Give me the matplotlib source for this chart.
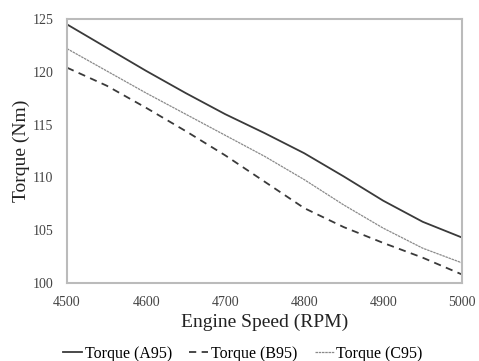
import matplotlib.pyplot as plt
import numpy as np

plt.rcParams['font.family'] = ['Liberation Serif', 'DejaVu Serif']

rpm = [4500, 4550, 4600, 4650, 4700, 4750, 4800, 4850, 4900, 4950, 5000]
torque_a95 = [124.5, 122.3, 120.1, 118.0, 116.0, 114.2, 112.3, 110.1, 107.8, 105.8, 104.3]
torque_b95 = [120.4, 118.7, 116.6, 114.4, 112.1, 109.6, 107.1, 105.3, 103.8, 102.4, 100.8]
torque_c95 = [122.2, 120.1, 118.0, 116.0, 114.0, 112.0, 109.8, 107.4, 105.2, 103.3, 101.9]

fig = plt.figure(figsize=(4.79, 3.61), dpi=100)
ax = fig.add_axes([0.140, 0.216, 0.825, 0.731])

ax.plot(rpm, torque_a95, color='#3a3a3a', lw=1.3, label='Torque (A95)')
ax.plot(rpm, torque_b95, color='#3a3a3a', lw=1.3, ls=(0, (4, 3)), label='Torque (B95)')
ax.plot(rpm, torque_c95, color='#8a8a8a', lw=0.9, ls=(0, (2, 0.6)), label='Torque (C95)')

ax.set_xlim(4500, 5000)
ax.set_ylim(100, 125)
ax.set_xticks(np.arange(4500, 5001, 100))
ax.set_yticks(np.arange(100, 126, 5))
ax.tick_params(length=0, labelsize=10, colors='#444444')
ax.tick_params(axis='x', pad=9)
ax.tick_params(axis='y', pad=10)
for s in ax.spines.values():
    s.set_color('#bbbbbb')
    s.set_linewidth(1.5)

ax.set_xlabel('Engine Speed (RPM)', fontsize=14, color='#222222', labelpad=4)
ax.set_ylabel('Torque (Nm)', fontsize=14, color='#222222', labelpad=2)

fig.legend(loc='center', bbox_to_anchor=(0.507, 0.02), ncol=3, frameon=False,
           fontsize=11.5, handlelength=1.2, handletextpad=0.15, columnspacing=1.1)

fig.savefig('out.png', dpi=100)
